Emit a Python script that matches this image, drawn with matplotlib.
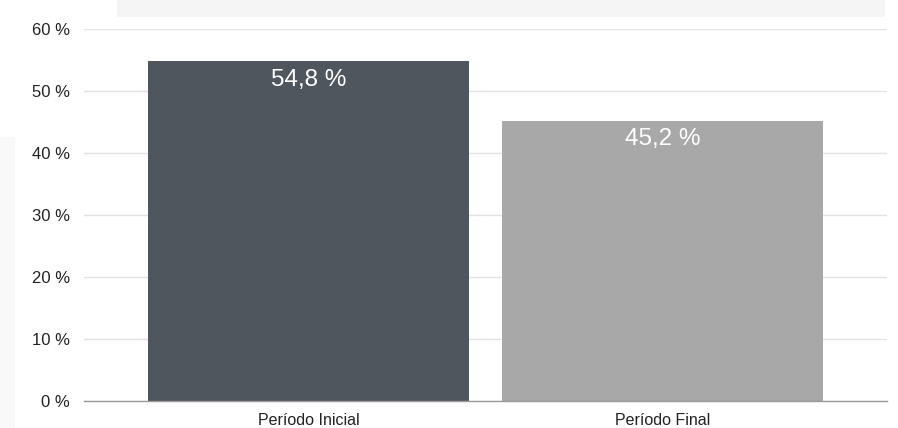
import matplotlib
matplotlib.use("Agg")
import matplotlib.pyplot as plt
from matplotlib.patches import Polygon
import numpy as np

categories = ["Período Inicial", "Período Final"]
values = [54.8, 45.2]
value_labels = ["54,8 %", "45,2 %"]
bar_colors = ["#50565e", "#a8a8a8"]
yticks = [0, 10, 20, 30, 40, 50, 60]

plt.rcParams['font.family'] = ['Liberation Sans', 'DejaVu Sans']

fig = plt.figure(figsize=(8.98, 4.28), dpi=100)

# faint watermark shapes behind the chart
fig.patches.append(Polygon([(0.13, 1.0), (0.985, 1.0), (0.985, 0.96), (0.13, 0.96)],
                           closed=True, transform=fig.transFigure,
                           facecolor="#f5f5f5", edgecolor="none", zorder=0))
fig.patches.append(Polygon([(0.0, 0.68), (0.017, 0.68), (0.017, 0.0), (0.0, 0.0)],
                           closed=True, transform=fig.transFigure,
                           facecolor="#f9f9f9", edgecolor="none", zorder=0))

ax = fig.add_axes([0.0935, 0.0631, 0.8943, 0.8691])
ax.patch.set_alpha(0)

x = np.arange(len(categories))
bars = ax.bar(x, values, width=0.907, color=bar_colors, zorder=2)

for b, lab in zip(bars, value_labels):
    ax.annotate(lab, (b.get_x() + b.get_width() / 2, b.get_height()),
                xytext=(0, -5.5), textcoords="offset points",
                ha="center", va="top", color="white", fontsize=17.5)

ax.set_xlim(-0.634, 1.634)
ax.set_ylim(0, 60)
ax.set_yticks(yticks)
ax.set_yticklabels([f"{t} %" for t in yticks])
ax.set_xticks(x)
ax.set_xticklabels(categories)

ax.grid(axis="y", color="#e2e2e2", linewidth=1, zorder=0)
ax.set_axisbelow(True)
for s in ["top", "right", "left"]:
    ax.spines[s].set_visible(False)
ax.spines["bottom"].set_color("#999999")
ax.spines["bottom"].set_linewidth(1)
ax.spines["bottom"].set_zorder(3)

ax.tick_params(axis="y", length=0, pad=10, labelsize=12, labelcolor="#222222")
ax.tick_params(axis="x", length=0, pad=9, labelsize=11.5, labelcolor="#222222")

fig.savefig("out.png", dpi=100)
